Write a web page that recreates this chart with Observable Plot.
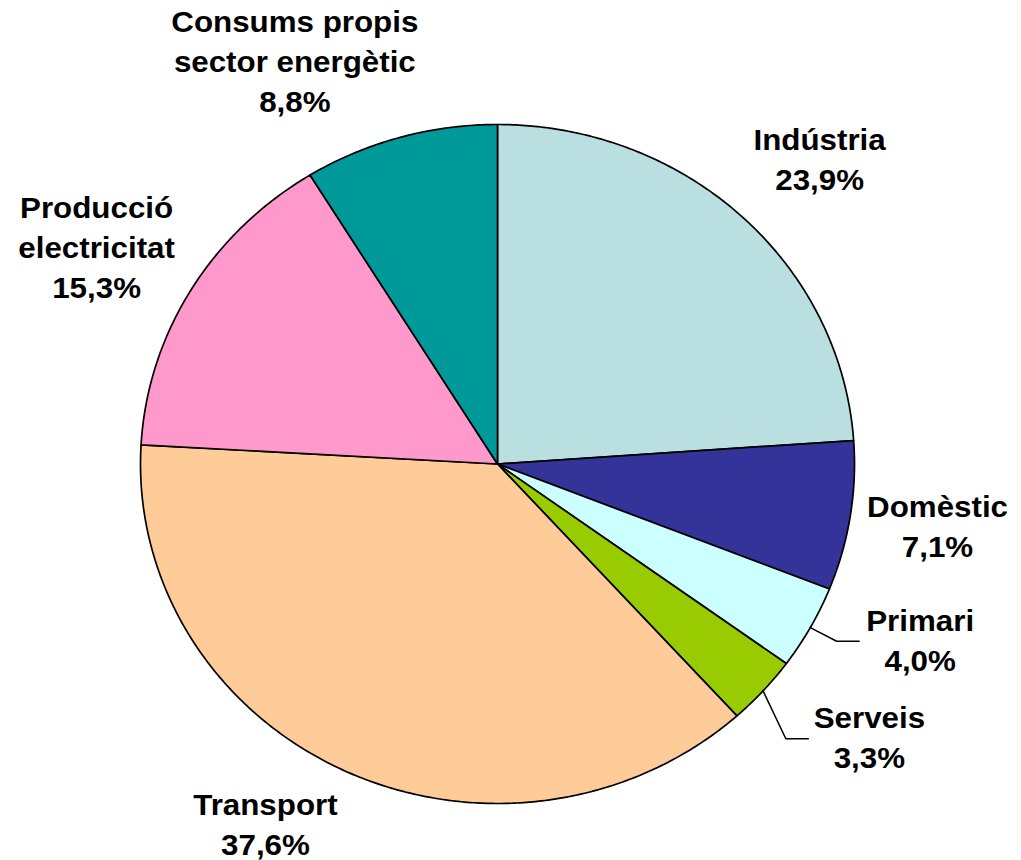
<!DOCTYPE html>
<html>
<head>
<meta charset="utf-8">
<script src="https://cdn.jsdelivr.net/npm/d3@7"></script>
<script src="https://cdn.jsdelivr.net/npm/@observablehq/plot@0.6"></script>
<style>
  html, body { margin: 0; padding: 0; background: #fff; }
  #chart svg { display: block; }
</style>
</head>
<body>
<div id="chart"></div>
<script>
// ---- data ----
const categories = ["Indústria", "Domèstic", "Primari", "Serveis", "Transport", "Producció\nelectricitat", "Consums propis\nsector energètic"];
const values = [23.9, 7.1, 4.0, 3.3, 37.6, 15.3, 8.8];
const valueLabels = ["23,9%", "7,1%", "4,0%", "3,3%", "37,6%", "15,3%", "8,8%"];
const colors = ["#BADFE1", "#333399", "#CCFFFF", "#99CC00", "#FFCC99", "#FF99CC", "#009999"];

// label layout: radius (in pie radii) and angular nudge (degrees) from slice mid-angle
const labelRadius = [1.269, 1.247, 1.294, 1.319, 1.249, 1.290, 1.312];
const labelNudge  = [2.3, -0.1, -5.0, -4.1, 5.8, -1.3, -9.8];
const hasLeader   = [false, false, true, true, false, false, false];
const leaderGap   = 0.171;  // leader end, left of label centre (pie radii)
const leaderFlat  = 0.063;  // horizontal part of leader (pie radii)

// ---- geometry via d3.pie (angle 0 at top, clockwise) ----
const arcs = d3.pie().sort(null).value(d => d)(values);
const toXY = (a, r) => [r * Math.sin(a), r * Math.cos(a)];

const slices = arcs.map((a, i) => {
  const n = Math.max(2, Math.ceil((a.endAngle - a.startAngle) / (Math.PI / 360)));
  const pts = [{x: 0, y: 0}];
  for (let k = 0; k <= n; k++) {
    const t = a.startAngle + (a.endAngle - a.startAngle) * k / n;
    const [x, y] = toXY(t, 1);
    pts.push({x, y});
  }
  pts.push({x: 0, y: 0});
  return {pts, color: colors[i]};
});

const labels = arcs.map((a, i) => {
  const mid = (a.startAngle + a.endAngle) / 2 + labelNudge[i] * Math.PI / 180;
  const [x, y] = toXY(mid, labelRadius[i]);
  return {x, y, text: categories[i] + "\n" + valueLabels[i]};
});

const leaders = [];
arcs.forEach((a, i) => {
  if (!hasLeader[i]) return;
  const mid = (a.startAngle + a.endAngle) / 2;
  const [x0, y0] = toXY(mid, 1);
  const xe = labels[i].x - leaderGap;
  leaders.push({id: i, x: x0, y: y0}, {id: i, x: xe - leaderFlat, y: labels[i].y}, {id: i, x: xe, y: labels[i].y});
});

const chart = Plot.plot({
  width: 1021,
  height: 860,
  margin: 0,
  x: {domain: [-1, 1], range: [140, 854], axis: null},
  y: {domain: [-1, 1], range: [803, 124], axis: null},
  marks: [
    ...slices.map(s => Plot.line(s.pts, {x: "x", y: "y", fill: s.color, stroke: "#000", strokeWidth: 1.7, strokeLinejoin: "round"})),
    Plot.line(leaders, {x: "x", y: "y", z: "id", stroke: "#000", strokeWidth: 1.5}),
    Plot.text(labels, {
      x: "x", y: "y", text: "text", dy: -3.5,
      fontSize: 29, fontWeight: "bold", fontFamily: "'Liberation Sans', Arial, sans-serif",
      lineHeight: 1.38, lineAnchor: "middle", textAnchor: "middle", fill: "#000"
    })
  ]
});
// slight horizontal stretch of labels, as in the original
chart.querySelectorAll("text").forEach(t => {
  const tr = t.getAttribute("transform");
  if (tr) t.setAttribute("transform", tr + " scale(1.08,1)");
});
document.getElementById("chart").appendChild(chart);
</script>
</body>
</html>
